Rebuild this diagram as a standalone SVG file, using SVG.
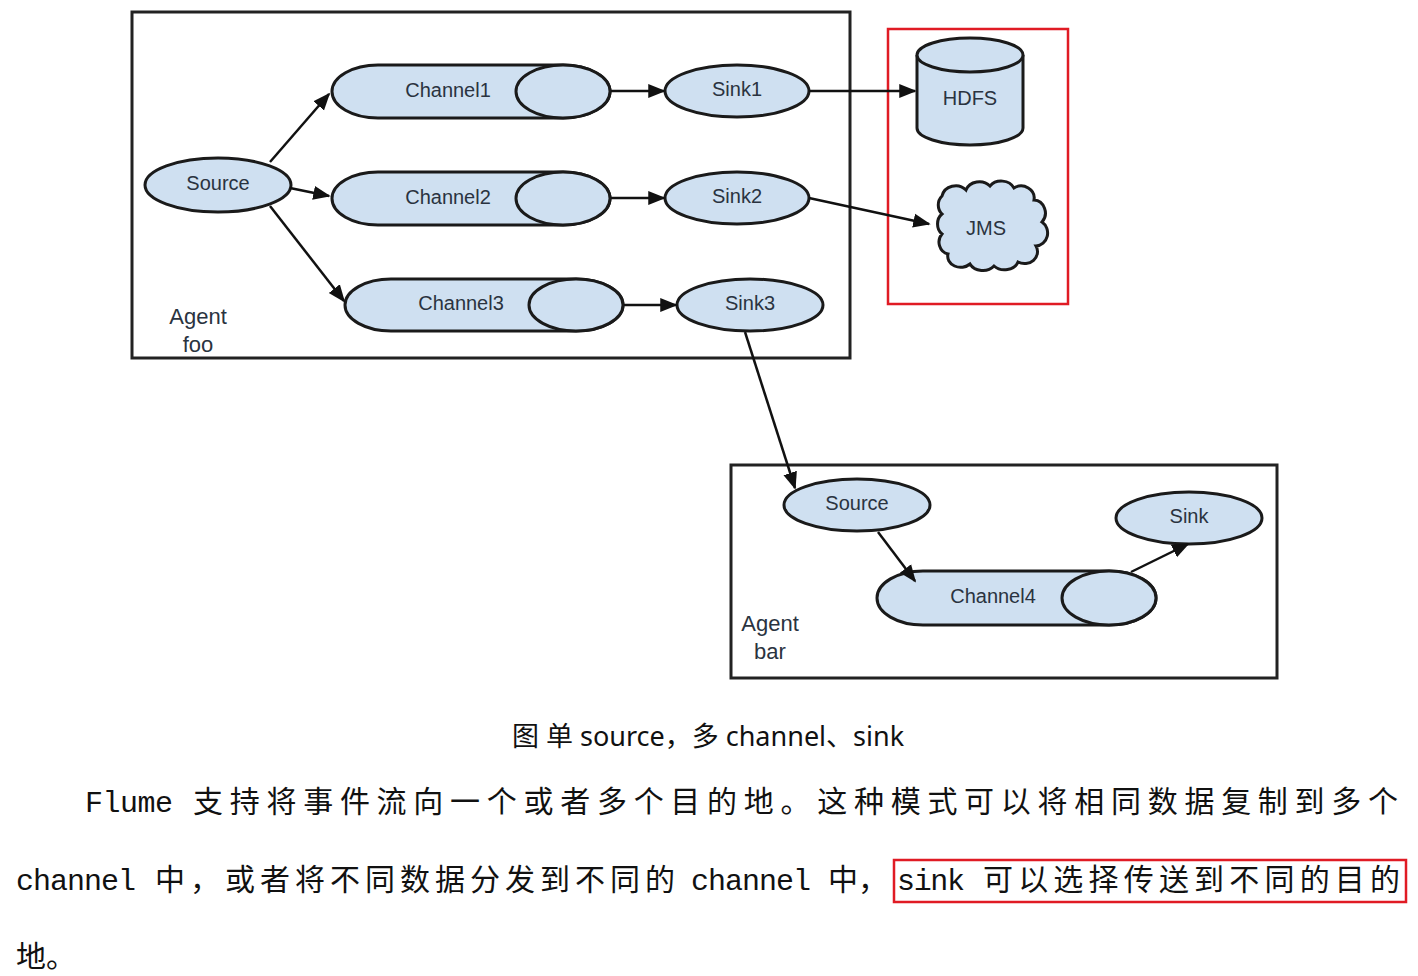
<svg xmlns="http://www.w3.org/2000/svg" width="1418" height="976" viewBox="0 0 1418 976">
<style>
.n{fill:#cfe0f1;stroke:#1a1a1a;stroke-width:3}
.t{font-family:"Liberation Sans",Arial,sans-serif;font-size:20px;fill:#2a3340;text-anchor:middle;dominant-baseline:middle}
.box{fill:none;stroke:#222;stroke-width:3}
.red{fill:none;stroke:#e01b24;stroke-width:2.5}
.c line{stroke:#111;stroke-width:2.5;marker-end:url(#a)}
.p{font-family:"Liberation Mono","Noto Sans CJK SC",monospace;font-size:30px;fill:#111}
</style>
<defs><marker id="a" viewBox="0 0 10 10" refX="9" refY="5" markerWidth="7" markerHeight="7" orient="auto" markerUnits="strokeWidth"><path d="M0,1 L10,5 L0,9z" fill="#111"/></marker></defs>
<rect class="box" x="132" y="12" width="718" height="346"/>
<rect class="box" x="731" y="465" width="546" height="213"/>
<rect class="red" x="888" y="29" width="180" height="275"/>
<text class="t" x="198" y="318" style="font-size:22px">Agent</text>
<text class="t" x="198" y="346" style="font-size:22px">foo</text>
<text class="t" x="770" y="625" style="font-size:22px">Agent</text>
<text class="t" x="770" y="653" style="font-size:22px">bar</text>
<g id="source1"><ellipse class="n" cx="218" cy="185" rx="73" ry="27"/><text class="t" x="218" y="185">Source</text></g>
<g id="channel1"><path class="n" d="M378,65 H563 A47,26.5 0 0 1 563,118 H378 A46,26.5 0 0 1 378,65Z"/><ellipse class="n" cx="563" cy="91.5" rx="47" ry="26.5"/><text class="t" x="448" y="92">Channel1</text></g>
<g id="channel2"><path class="n" d="M378,172 H563 A47,26.5 0 0 1 563,225 H378 A46,26.5 0 0 1 378,172Z"/><ellipse class="n" cx="563" cy="198.5" rx="47" ry="26.5"/><text class="t" x="448" y="199">Channel2</text></g>
<g id="channel3"><path class="n" d="M391,279 H576 A47,26 0 0 1 576,331 H391 A46,26 0 0 1 391,279Z"/><ellipse class="n" cx="576" cy="305" rx="47" ry="26"/><text class="t" x="461" y="305">Channel3</text></g>
<g id="sink1"><ellipse class="n" cx="737" cy="91" rx="72" ry="26"/><text class="t" x="737" y="91">Sink1</text></g>
<g id="sink2"><ellipse class="n" cx="737" cy="198" rx="72" ry="26"/><text class="t" x="737" y="198">Sink2</text></g>
<g id="sink3"><ellipse class="n" cx="750" cy="305" rx="73" ry="26"/><text class="t" x="750" y="305">Sink3</text></g>
<g id="hdfs"><path class="n" d="M917,55 V128 A53,17 0 0 0 1023,128 V55"/><ellipse class="n" cx="970" cy="55" rx="53" ry="17"/><text class="t" x="970" y="100">HDFS</text></g>
<g id="jms"><path class="n" d="M942,196 a14,13 0 0 1 24,-6 a14,12 0 0 1 24,-4 a14,12 0 0 1 24,2 a13,12 0 0 1 20,12 a12,13 0 0 1 8,22 a12,13 0 0 1 -6,24 a13,12 0 0 1 -18,16 a14,11 0 0 1 -24,4 a14,11 0 0 1 -24,-2 a13,11 0 0 1 -22,-10 a11,12 0 0 1 -6,-20 a10,12 0 0 1 0,-20 a11,12 0 0 1 0,-18z"/><text class="t" x="986" y="230">JMS</text></g>
<g id="source2"><ellipse class="n" cx="857" cy="505" rx="73" ry="26"/><text class="t" x="857" y="505">Source</text></g>
<g id="channel4"><path class="n" d="M923,571 H1109 A47,27 0 0 1 1109,625 H923 A46,27 0 0 1 923,571Z"/><ellipse class="n" cx="1109" cy="598" rx="47" ry="27"/><text class="t" x="993" y="598">Channel4</text></g>
<g id="sink"><ellipse class="n" cx="1189" cy="518" rx="73" ry="26"/><text class="t" x="1189" y="518">Sink</text></g>
<g class="c">
<line x1="270" y1="162" x2="329" y2="94"/>
<line x1="290" y1="188" x2="329" y2="196"/>
<line x1="270" y1="206" x2="344" y2="301"/>
<line x1="611" y1="91" x2="664" y2="91"/>
<line x1="611" y1="198" x2="664" y2="198"/>
<line x1="624" y1="305" x2="676" y2="305"/>
<line x1="809" y1="91" x2="915" y2="91"/>
<line x1="809" y1="198" x2="929" y2="224"/>
<line x1="745" y1="332" x2="795" y2="488"/>
<line x1="878" y1="532" x2="915" y2="581"/>
<line x1="1131" y1="572" x2="1188" y2="544"/>
</g>
<text x="708" y="746" text-anchor="middle" style="font-family:'Noto Sans','Noto Sans CJK SC',sans-serif;font-size:27px;fill:#111">图  单 source，多 channel、sink</text>
<text class="p" x="85" y="812" textLength="88">Flume</text>
<text class="p" x="193" y="812" textLength="1205" lengthAdjust="spacing">支持将事件流向一个或者多个目的地。这种模式可以将相同数据复制到多个</text>
<text class="p" x="16" y="890" textLength="120">channel</text>
<text class="p" x="155" y="890" textLength="520" lengthAdjust="spacing">中，或者将不同数据分发到不同的</text>
<text class="p" x="691" y="890" textLength="120">channel</text>
<text class="p" x="828" y="890">中，</text>
<text class="p" x="897" y="890" textLength="68">sink</text>
<text class="p" x="983" y="890" textLength="417" lengthAdjust="spacing">可以选择传送到不同的目的</text>
<text class="p" x="16" y="967">地。</text>
<rect class="red" x="894" y="860" width="512" height="42"/>
</svg>
